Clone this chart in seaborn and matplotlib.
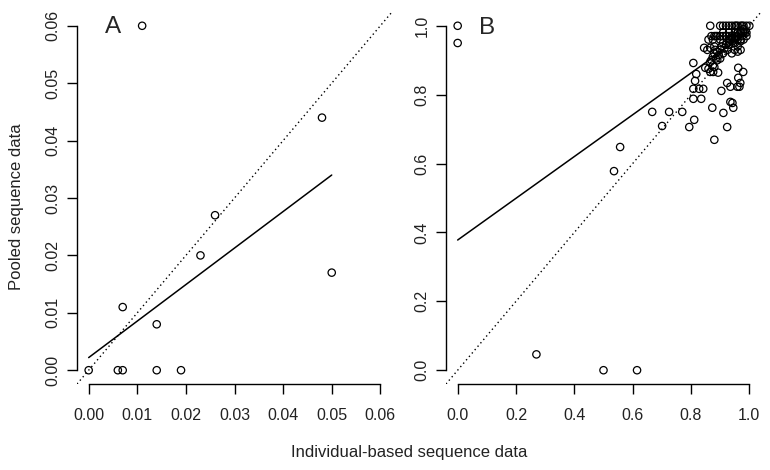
import numpy as np
import pandas as pd
import seaborn as sns
import matplotlib
matplotlib.use("Agg")
import matplotlib.pyplot as plt

# panel A: individual-based vs pooled values
a_indiv = [0.000, 0.006, 0.007, 0.007, 0.011, 0.014, 0.014, 0.019, 0.023, 0.026, 0.048, 0.050]
a_pooled = [0.000, 0.000, 0.000, 0.011, 0.060, 0.008, 0.000, 0.000, 0.020, 0.027, 0.044, 0.017]
a_fit = (0.0022, 0.636)   # intercept, slope
a_ticks = [0.00, 0.01, 0.02, 0.03, 0.04, 0.05, 0.06]
a_labels = ["0.00", "0.01", "0.02", "0.03", "0.04", "0.05", "0.06"]

# panel B
b_indiv = [
    0.0, 0.0, 0.27, 0.50, 0.615, 0.536, 0.557,
    0.667, 0.701, 0.725, 0.77, 0.794, 0.811, 0.880, 0.873, 0.911, 0.924, 0.935, 0.942, 0.945,
    0.808, 0.818, 0.814, 0.808, 0.828, 0.842, 0.808, 0.835, 0.849, 0.866, 0.876, 0.893,
    0.904, 0.924, 0.935, 0.962, 0.979, 0.962, 0.969, 0.966, 0.959,
    0.866, 0.90, 0.91, 0.92, 0.93, 0.94, 0.95, 0.955, 0.96, 0.97, 0.975, 0.98, 0.99, 1.0,
    0.91, 0.93, 0.95, 0.96, 0.97, 0.98, 0.99,
    0.87, 0.88, 0.885, 0.89, 0.90, 0.91, 0.92, 0.93, 0.94,
    0.86, 0.875, 0.90, 0.93, 0.95, 0.96, 0.97,
    0.845, 0.856, 0.866, 0.883, 0.88, 0.91, 0.93, 0.95, 0.96, 0.97, 0.98, 0.99,
    0.87, 0.875, 0.88, 0.885, 0.89, 0.895, 0.90, 0.905, 0.91, 0.915, 0.92, 0.925, 0.93,
    0.935, 0.94, 0.945, 0.95, 0.955, 0.96, 0.965, 0.97, 0.975, 0.98, 0.985, 0.96, 0.95,
    0.94, 0.97, 0.866, 0.875, 0.88, 0.86, 0.89, 0.90,
]
b_pooled = [
    1.0, 0.95, 0.046, 0.0, 0.0, 0.578, 0.648,
    0.75, 0.709, 0.75, 0.75, 0.706, 0.727, 0.669, 0.762, 0.747, 0.706, 0.779, 0.776, 0.762,
    0.892, 0.86, 0.84, 0.817, 0.817, 0.817, 0.788, 0.788, 0.878, 0.866, 0.866, 0.864,
    0.811, 0.834, 0.823, 0.878, 0.866, 0.849, 0.834, 0.823, 0.823,
    1.0, 1.0, 1.0, 1.0, 1.0, 1.0, 1.0, 1.0, 1.0, 1.0, 1.0, 1.0, 1.0, 1.0,
    0.98, 0.98, 0.98, 0.98, 0.98, 0.98, 0.98,
    0.97, 0.97, 0.97, 0.97, 0.97, 0.97, 0.97, 0.97, 0.97,
    0.96, 0.96, 0.96, 0.96, 0.96, 0.96, 0.96,
    0.936, 0.93, 0.936, 0.93, 0.94, 0.95, 0.945, 0.95, 0.94, 0.955, 0.96, 0.97,
    0.90, 0.91, 0.92, 0.905, 0.925, 0.915, 0.93, 0.94, 0.92, 0.935, 0.945, 0.93, 0.955,
    0.96, 0.965, 0.95, 0.97, 0.965, 0.98, 0.975, 0.985, 0.97, 0.99, 0.98, 0.925, 0.93,
    0.92, 0.93, 0.895, 0.885, 0.88, 0.875, 0.90, 0.905,
]
b_fit = (0.378, 0.606)
b_ticks = [0.0, 0.2, 0.4, 0.6, 0.8, 1.0]
b_labels = ["0.0", "0.2", "0.4", "0.6", "0.8", "1.0"]

sns.set_style("ticks")
plt.rcParams["font.family"] = ["Liberation Sans", "DejaVu Sans"]

fig = plt.figure(figsize=(7.7, 4.7), dpi=100)
axA = fig.add_axes([77 / 770, 1 - 384 / 470, 315 / 770, 372 / 470])
axB = fig.add_axes([446 / 770, 1 - 384 / 470, 315 / 770, 372 / 470])


def panel(ax, x, y, fit, ticks, labels, letter, letter_x, xmax):
    df = pd.DataFrame({"x": x, "y": y})
    sns.scatterplot(data=df, x="x", y="y", ax=ax, s=28, marker="o",
                    facecolors="none", edgecolor="black", linewidth=0.9, zorder=3)
    lo, hi = ticks[0], ticks[-1]
    pad = 0.04 * (hi - lo)
    ax.set_xlim(lo - pad, hi + pad)
    ax.set_ylim(lo - pad, hi + pad)
    # 1:1 line
    ax.plot([lo - pad, hi + pad], [lo - pad, hi + pad], ls=(0, (1, 2.2)),
            color="black", lw=1.0)
    # fitted line
    xs = np.array([0, xmax])
    ax.plot(xs, fit[0] + fit[1] * xs, color="black", lw=1.1)
    ax.set_xticks(ticks)
    ax.set_xticklabels(labels)
    ax.set_yticks(ticks)
    ax.set_yticklabels(labels, rotation=90, va="center")
    ax.tick_params(axis="both", length=7, width=1, labelsize=11.5,
                   color="black", labelcolor="#222222")
    ax.tick_params(axis="x", pad=10)
    ax.tick_params(axis="y", pad=5)
    ax.spines["top"].set_visible(False)
    ax.spines["right"].set_visible(False)
    ax.spines["left"].set_bounds(lo, hi)
    ax.spines["bottom"].set_bounds(lo, hi)
    for s in ("left", "bottom"):
        ax.spines[s].set_linewidth(1)
        ax.spines[s].set_color("black")
    ax.set_xlabel("")
    ax.set_ylabel("")
    ax.text(lo + letter_x * (hi - lo), hi - 0.005 * (hi - lo), letter,
            fontsize=17.5, ha="center", va="center")


panel(axA, a_indiv, a_pooled, a_fit, a_ticks, a_labels, "A", 0.083, 0.05)
panel(axB, b_indiv, b_pooled, b_fit, b_ticks, b_labels, "B", 0.10, 1.0)

fig.text(409 / 770, 1 - 452 / 470, "Individual-based sequence data",
         ha="center", va="center", fontsize=12, color="#222222")
fig.text(17 / 770, 1 - 207 / 470, "Pooled sequence data", rotation=90,
         ha="center", va="center", fontsize=12, color="#222222")

fig.savefig("out.png", dpi=100)
